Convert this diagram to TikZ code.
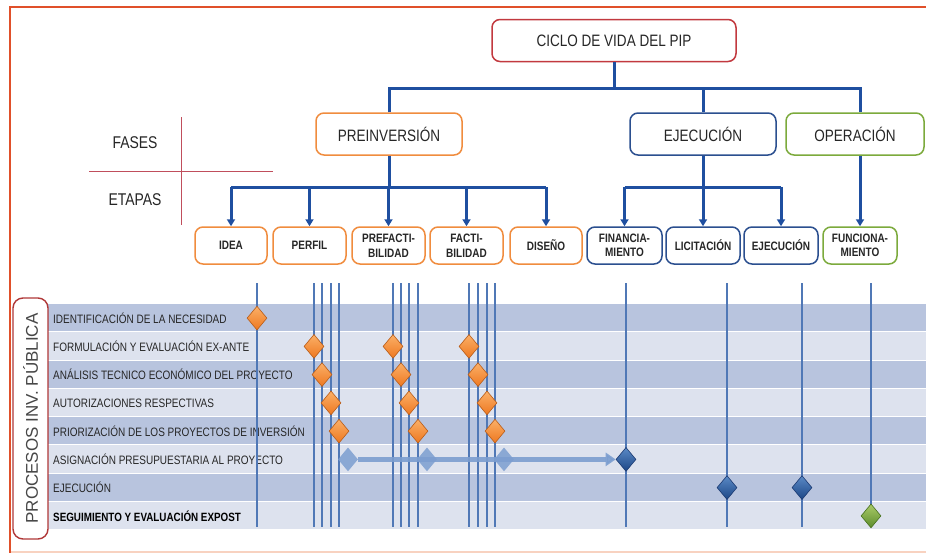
\documentclass[tikz,border=0pt]{standalone}
\usepackage{fontspec}
\setmainfont{Liberation Sans}[FakeStretch=0.82]
\newfontfamily\widefont{Liberation Sans}
\usetikzlibrary{shapes.geometric,arrows.meta}

\definecolor{frameRed}{HTML}{E0502A}
\definecolor{framePale}{HTML}{F8D2C0}
\definecolor{titleRed}{HTML}{C2393F}
\definecolor{crossRed}{HTML}{C04E5C}
\definecolor{preOrange}{HTML}{F08C3E}
\definecolor{ejeBlue}{HTML}{2B4F8F}
\definecolor{opeGreen}{HTML}{7CAA3C}
\definecolor{treeBlue}{HTML}{1F4FA0}
\definecolor{gridBlue}{HTML}{5078B6}
\definecolor{stripeDark}{HTML}{B8C4DE}
\definecolor{stripeLight}{HTML}{DDE2EE}
\definecolor{labelRed}{HTML}{B03838}
\definecolor{txt}{HTML}{262626}
\definecolor{orTop}{HTML}{FBB068}
\definecolor{orBot}{HTML}{EE7820}
\definecolor{orEdge}{HTML}{B85C18}
\definecolor{blTop}{HTML}{5B8AC6}
\definecolor{blBot}{HTML}{1C4686}
\definecolor{blEdge}{HTML}{1B3A72}
\definecolor{grTop}{HTML}{AACB68}
\definecolor{grBot}{HTML}{5C8C2C}
\definecolor{grEdge}{HTML}{46701E}
\definecolor{ghost}{HTML}{7C9ED0}

\tikzset{
  phasebox/.style={draw, rounded corners=8pt, line width=1.5pt, fill=white,
    text=txt, align=center, inner sep=0pt, minimum height=42pt,
    font=\fontsize{16.5}{19}\selectfont},
  stagebox/.style={draw, rounded corners=8pt, line width=1.5pt, fill=white,
    text=txt, align=center, inner sep=0pt, minimum height=37pt,
    font=\bfseries\fontsize{12.2}{14.5}\selectfont},
  tree/.style={treeBlue, line width=3pt},
  treearrow/.style={tree, -{Triangle[width=8pt,length=7pt]}},
  rowlabel/.style={anchor=west, text=txt, inner sep=0pt,
    font=\fontsize{12.2}{14}\selectfont},
  gem/.style={diamond, minimum width=20pt, minimum height=24pt,
    inner sep=0pt, line width=0.6pt},
  gemorange/.style={gem, draw=orEdge, top color=orTop, bottom color=orBot},
  gemblue/.style={gem, draw=blEdge, top color=blTop, bottom color=blBot},
  gemgreen/.style={gem, draw=grEdge, top color=grTop, bottom color=grBot},
  gemghost/.style={gem, fill=ghost, fill opacity=0.85},
}

\begin{document}
\begin{tikzpicture}[x=1pt,y=-1pt]
\useasboundingbox (0,0) rectangle (926,554);
\fill[white] (0,0) rectangle (926,554);

% outer frame
\draw[framePale, line width=1.5pt] (10,552) -- (940,552);
\draw[frameRed, line width=2pt] (940,7) -- (10,7) -- (10,553);

% phases and stages
\node[phasebox, draw=titleRed, minimum width=244pt] (title) at (614,40.5) {CICLO DE VIDA DEL PIP};
\node[phasebox, draw=preOrange, minimum width=146pt] (pre) at (389,134) {PREINVERSIÓN};
\node[phasebox, draw=ejeBlue, minimum width=146pt] (eje) at (703,134) {EJECUCIÓN};
\node[phasebox, draw=opeGreen, minimum width=138pt] (ope) at (855,134) {OPERACIÓN};

\node[stagebox, draw=preOrange, minimum width=72pt] (idea) at (231,245.5) {IDEA};
\node[stagebox, draw=preOrange, minimum width=73pt] (perfil) at (309.5,245.5) {PERFIL};
\node[stagebox, draw=preOrange, minimum width=73pt] (prefac) at (388.5,245.5) {PREFACTI-\\BILIDAD};
\node[stagebox, draw=preOrange, minimum width=73pt] (factib) at (466.5,245.5) {FACTI-\\BILIDAD};
\node[stagebox, draw=preOrange, minimum width=72pt] (diseno) at (546,245.5) {DISEÑO};
\node[stagebox, draw=ejeBlue, minimum width=75pt] (financ) at (624.5,245.5) {FINANCIA-\\MIENTO};
\node[stagebox, draw=ejeBlue, minimum width=74pt] (licit) at (703,245.5) {LICITACIÓN};
\node[stagebox, draw=ejeBlue, minimum width=74pt] (ejec) at (781,245.5) {EJECUCIÓN};
\node[stagebox, draw=opeGreen, minimum width=74pt] (funcion) at (860,245.5) {FUNCIONA-\\MIENTO};

% tree connectors
\coordinate (busA) at (614,88);
\coordinate (busP) at (389,187);
\coordinate (busE) at (703,187);
\draw[tree] (title.south) -- (busA);
\draw[tree] (pre.north) |- (busA) -| (eje.north);
\draw[tree] (busA) -| (funcion.north |- ope.north);
\draw[tree] (pre.south) -- (busP);
\draw[tree] (idea.north |- busP) -- (diseno.north |- busP);
\foreach \n in {idea,perfil,prefac,factib,diseno}
  \draw[treearrow] (\n.north |- busP) -- (\n.north);
\draw[tree] (eje.south) -- (busE);
\draw[tree] (financ.north |- busE) -- (ejec.north |- busE);
\foreach \n in {financ,licit,ejec}
  \draw[treearrow] (\n.north |- busE) -- (\n.north);
\draw[treearrow] (funcion.north |- ope.south) -- (funcion.north);

% phases / stages cross
\draw[crossRed, line width=1pt] (181,117) -- (181,225);
\draw[crossRed, line width=1pt] (89,171) -- (273,171);
\node[text=txt, font=\fontsize{17}{20}\selectfont] (fases) at (135,143) {FASES};
\node[text=txt, font=\fontsize{17}{20}\selectfont] (etapas) at (135,200) {ETAPAS};

% process rows
\foreach \i in {0,...,7}{
  \pgfmathsetmacro{\ytop}{304+28.25*\i}
  \pgfmathsetmacro{\ybot}{\ytop+27.25}
  \ifodd\i
    \fill[stripeLight] (48,\ytop) rectangle (926,\ybot);
  \else
    \fill[stripeDark] (48,\ytop) rectangle (926,\ybot);
  \fi
}

\node[draw=labelRed, line width=1.4pt, rounded corners=10pt, rotate=90,
  minimum width=241pt, minimum height=35pt, inner sep=0pt, text=txt!85,
  font=\widefont\fontsize{17}{20}\selectfont] (procesos) at (30.5,418.5)
  {PROCESOS INV. PÚBLICA};

\node[rowlabel] (r1) at (53,318.1) {IDENTIFICACIÓN DE LA NECESIDAD};
\node[rowlabel] (r2) at (53,346.4) {FORMULACIÓN Y EVALUACIÓN EX-ANTE};
\node[rowlabel] (r3) at (53,374.6) {ANÁLISIS TECNICO ECONÓMICO DEL PROYECTO};
\node[rowlabel] (r4) at (53,402.9) {AUTORIZACIONES RESPECTIVAS};
\node[rowlabel] (r5) at (53,431.1) {PRIORIZACIÓN DE LOS PROYECTOS DE INVERSIÓN};
\node[rowlabel] (r6) at (53,459.4) {ASIGNACIÓN PRESUPUESTARIA AL PROYECTO};
\node[rowlabel] (r7) at (53,487.6) {EJECUCIÓN};
\node[rowlabel, font=\bfseries\fontsize{12}{14}\selectfont, text=black] (r8) at (53,515.9) {SEGUIMIENTO Y EVALUACIÓN EXPOST};

% stage time lines
\foreach \x in {257,314,322,331,339,393,401,409,418,469,478,487,495,626,727,802,871}
  \draw[gridBlue, line width=1.2pt] (\x,283) -- (\x,527);

% milestones
\node[gemorange] (m1) at (257,318.1) {};
\foreach \x [count=\k] in {314,393,469} \node[gemorange] (a\k) at (\x,346.4) {};
\foreach \x [count=\k] in {322,401,478} \node[gemorange] (b\k) at (\x,374.6) {};
\foreach \x [count=\k] in {331,409,487} \node[gemorange] (c\k) at (\x,402.9) {};
\foreach \x [count=\k] in {339,418,495} \node[gemorange] (d\k) at (\x,431.1) {};

\node[gemblue] (f1) at (626,459.4) {};
\node[gemghost] (g1) at (348,459.4) {};
\draw[ghost, line width=5pt, opacity=0.9, -{Triangle[width=13pt,length=10pt]}]
  (g1.east) -- (f1.west);
\node[gemghost] (g2) at (427,459.4) {};
\node[gemghost] (g3) at (504,459.4) {};

\node[gemblue] (e1) at (727,487.6) {};
\node[gemblue] (e2) at (802,487.6) {};
\node[gemgreen] (s1) at (871,515.9) {};
\end{tikzpicture}
\end{document}
